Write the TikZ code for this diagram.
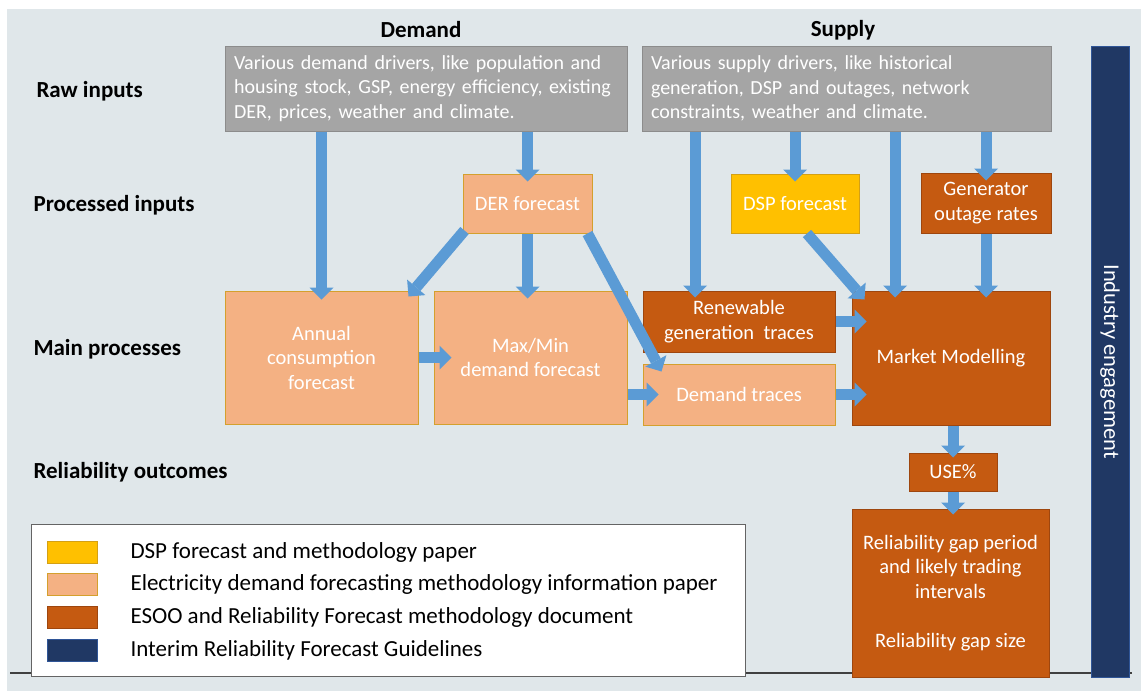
\documentclass[tikz,border=0pt]{standalone}
\usepackage{fontspec}
\setmainfont{Carlito}
\usetikzlibrary{arrows.meta}
\hyphenpenalty=10000

\definecolor{bggrey}{RGB}{224,231,234}
\definecolor{rawgrey}{RGB}{165,165,165}
\definecolor{rawedge}{RGB}{140,140,140}
\definecolor{liteor}{RGB}{244,177,131}
\definecolor{liteedge}{RGB}{212,160,45}
\definecolor{darkor}{RGB}{197,90,17}
\definecolor{darkedge}{RGB}{158,70,14}
\definecolor{dspyel}{RGB}{255,192,0}
\definecolor{dspedge}{RGB}{212,160,20}
\definecolor{navy}{RGB}{32,56,100}
\definecolor{navyedge}{RGB}{47,85,151}
\definecolor{flowblue}{RGB}{91,155,213}
\definecolor{legedge}{RGB}{100,100,100}

\newcommand{\fsz}[1]{\fontsize{#1pt}{24.5pt}\selectfont}

\begin{document}
\begin{tikzpicture}[x=1pt,y=-1pt,
	box/.style={line width=1pt, text=white, align=center, font=\fsz{20.5}, inner sep=2pt},
	raw/.style={box, fill=rawgrey, draw=rawedge, align=left, font=\fsz{20}, minimum height=85pt, text width=384pt, inner xsep=9pt},
	lite/.style={box, fill=liteor, draw=liteedge},
	dark/.style={box, fill=darkor, draw=darkedge},
	gold/.style={box, fill=dspyel, draw=dspedge},
	rowlab/.style={anchor=west, font=\bfseries\fsz{23}},
	head/.style={font=\bfseries\fsz{23}, inner sep=1pt},
	swatch/.style={line width=1pt, minimum width=50pt, minimum height=22pt},
	legtext/.style={anchor=west, font=\fsz{23}},
	flow/.style={line width=11pt, draw=flowblue, -{Triangle[width=24pt,length=12pt,line width=0pt]}}]
	\useasboundingbox (0,0) rectangle (1141,691);
	\fill[bggrey] (7,9) rectangle (1141,691);
	\draw[line width=1.5pt, draw=black!75] (10,673) -- (1132,673);

	% headings and row labels
	\node[head] (demand) at (421,30) {Demand};
	\node[head] (supply) at (843,30) {Supply};
	\node[rowlab] (rawlab) at (33,91) {Raw inputs};
	\node[rowlab] (proclab) at (30,205) {Processed inputs};
	\node[rowlab] (mainlab) at (30,349) {Main processes};
	\node[rowlab] (rellab) at (30,472) {Reliability outcomes};

	% raw inputs
	\node[raw] (draw) at (426,88.5) {Various demand drivers, like population and\\housing stock, GSP, energy efficiency, existing\\DER, prices, weather and climate.};
	\node[raw, text width=391pt] (sraw) at (846.5,88.5) {Various supply drivers, like historical\\generation, DSP and outages, network\\constraints, weather and climate.};

	% processed inputs
	\node[lite, minimum width=129pt, minimum height=59pt] (der) at (527.5,203.5) {DER forecast};
	\node[gold, minimum width=128pt, minimum height=59pt] (dsp) at (795,203.5) {DSP forecast};
	\node[dark, minimum width=130pt, minimum height=60pt] (gen) at (986,203) {Generator\\outage rates};

	% main processes
	\node[lite, minimum width=193pt, minimum height=133pt] (annual) at (321.5,357.5) {Annual\\consumption\\forecast};
	\node[lite, minimum width=193pt, minimum height=133pt] (maxmin) at (530.5,357.5) {Max/Min\\demand forecast};
	\node[dark, minimum width=192pt, minimum height=61pt] (ren) at (739,321.5) {Renewable\\generation~ traces};
	\node[lite, minimum width=192pt, minimum height=61pt] (dtr) at (739,394.5) {Demand traces};
	\node[dark, minimum width=198pt, minimum height=134pt] (mkt) at (951,358) {Market Modelling};

	% reliability outcomes
	\node[dark, minimum width=88pt, minimum height=38pt] (use) at (953,472) {USE\%};
	\node[dark, minimum width=197pt, minimum height=168pt] (rel) at (950.5,593) {Reliability gap period\\and likely trading\\intervals\\[24.5pt]Reliability gap size};

	% industry engagement bar
	\node[fill=navy, draw=navyedge, line width=1pt, minimum width=38pt, minimum height=631pt] (bar) at (1110,361.5) {};
	\node[text=white, font=\fsz{22.5}, rotate=-90] (bartext) at (bar.center) {Industry engagement};

	% arrows
	\draw[flow] (draw.south -| annual.north) -- ([yshift=-9pt]annual.north);
	\draw[flow] (draw.south -| der.north) -- ([yshift=-8pt]der.north);
	\draw[flow] ([xshift=2pt,yshift=3pt]der.south west) -- ([xshift=-10pt,yshift=-6pt]annual.north east);
	\draw[flow] (der.south) -- ([yshift=-8pt]der.south |- maxmin.north);
	\draw[flow] ([xshift=-5pt]der.south east) -- ([xshift=19pt,yshift=-8pt]dtr.north west);
	\draw[flow] (annual.east) -- ([xshift=18pt]maxmin.west);
	\draw[flow] (maxmin.east |- dtr.west) -- ([xshift=16pt]dtr.west);
	\draw[flow] ([xshift=-44pt]sraw.south -| ren.north) -- ([xshift=-44pt,yshift=-7pt]ren.north);
	\draw[flow] (sraw.south -| dsp.north) -- ([yshift=-8pt]dsp.north);
	\draw[flow] ([xshift=12pt]dsp.south) -- ([xshift=13pt,yshift=-9pt]mkt.north west);
	\draw[flow] ([xshift=-56pt]sraw.south -| mkt.north) -- ([xshift=-56pt,yshift=-7pt]mkt.north);
	\draw[flow] (sraw.south -| gen.north) -- ([yshift=-8pt]gen.north);
	\draw[flow] (gen.south) -- ([yshift=-7pt]gen.south |- mkt.north);
	\draw[flow] (ren.east) -- ([xshift=15pt]ren.east -| mkt.west);
	\draw[flow] (dtr.east) -- ([xshift=15pt]dtr.east -| mkt.west);
	\draw[flow] (mkt.south -| use.north) -- ([yshift=-5pt]use.north);
	\draw[flow] (use.south) -- ([yshift=-6pt]rel.north -| use.south);

	% legend
	\node[fill=white, draw=legedge, line width=1pt, minimum width=714pt, minimum height=152pt] (legend) at (388,600) {};
	\node[swatch, fill=dspyel, draw=dspedge] (sw1) at (72,552) {};
	\node[legtext] (lt1) at (127,552) {DSP forecast and methodology paper};
	\node[swatch, fill=liteor, draw=liteedge] (sw2) at (72,584) {};
	\node[legtext] (lt2) at (127,584) {Electricity demand forecasting methodology information paper};
	\node[swatch, fill=darkor, draw=darkedge] (sw3) at (72,617) {};
	\node[legtext] (lt3) at (127,617) {ESOO and Reliability Forecast methodology document};
	\node[swatch, fill=navy, draw=navyedge] (sw4) at (72,650) {};
	\node[legtext] (lt4) at (127,650) {Interim Reliability Forecast Guidelines};
\end{tikzpicture}
\end{document}
